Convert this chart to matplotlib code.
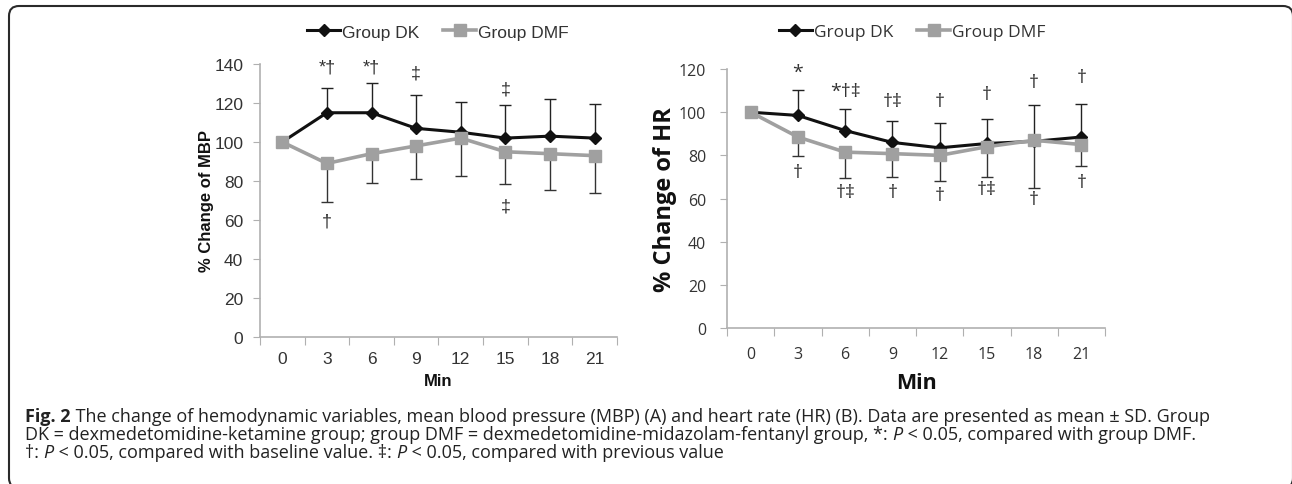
import numpy as np
import matplotlib
matplotlib.use("Agg")
import matplotlib.pyplot as plt
from matplotlib.patches import FancyBboxPatch

minutes = [0, 3, 6, 9, 12, 15, 18, 21]

mbp_dk = [100, 115, 115, 107, 105, 102, 103, 102]
mbp_dk_sd = [0, 12.5, 15, 17, 15.5, 17, 19, 17.5]
mbp_dmf = [100, 89, 94, 98, 102, 95, 94, 93]
mbp_dmf_sd = [0, 20, 15, 17, 19.5, 16.5, 18.5, 19]

hr_dk = [100, 98.5, 91.5, 86, 83.5, 85.5, 86.5, 88.5]
hr_dk_sd = [0, 12, 10, 10, 11.5, 11.5, 17, 15.5]
hr_dmf = [100, 88.5, 81.5, 80.8, 80, 84, 87, 85]
hr_dmf_sd = [0, 9, 12, 11, 12, 14, 22, 10]

# significance marks (text, baseline y) per time point
mbp_above = ["", "*†", "*†", "‡", "", "‡", "", ""]
mbp_above_y = [0, 136, 136, 133, 0, 125, 0, 0]
mbp_below = ["", "†", "", "", "", "‡", "", ""]
mbp_below_y = [0, 57, 0, 0, 0, 65, 0, 0]

hr_above = ["", "*", "*†‡", "†‡", "†", "†", "†", "†"]
hr_above_y = [0, 116.5, 107.5, 103, 103, 106, 111.5, 114]
hr_below = ["", "†", "†‡", "†", "†", "†‡", "†", "†"]
hr_below_y = [0, 70, 60.5, 60.5, 59.5, 62, 57.5, 65.5]

DK_COLOR = "#111111"
DMF_COLOR = "#a0a0a0"
AXIS_COLOR = "#b0b0b0"
TEXT_COLOR = "#333333"

fig = plt.figure(figsize=(12.92, 4.85), dpi=100)


def draw_panel(ax, dk, dk_sd, dmf, dmf_sd, ymax, ystep, above, above_y,
               below, below_y, ylabel, family, tick_fs, lab_fs, min_fs,
               mark_fs, ypad, xpad, minpad, ylabpad):
    x = np.arange(len(minutes))
    zeros = np.zeros(len(x))
    ax.errorbar(x, dk, yerr=[zeros, dk_sd], fmt="none", ecolor="#222222",
                elinewidth=1, capsize=4, capthick=1, zorder=2)
    ax.errorbar(x, dmf, yerr=[dmf_sd, zeros], fmt="none", ecolor="#333333",
                elinewidth=1, capsize=4, capthick=1, zorder=2)
    ax.plot(x, dk, color=DK_COLOR, lw=2.2, marker="D", ms=6,
            label="Group DK", zorder=3)
    ax.plot(x, dmf, color=DMF_COLOR, lw=2.6, marker="s", ms=8,
            label="Group DMF", zorder=4)

    for i in range(len(x)):
        if above[i]:
            ax.text(x[i], above_y[i], above[i], ha="center", va="baseline",
                    fontsize=mark_fs, color=TEXT_COLOR, family=family)
        if below[i]:
            ax.text(x[i], below_y[i], below[i], ha="center", va="baseline",
                    fontsize=mark_fs, color=TEXT_COLOR, family=family)

    ax.set_xlim(-0.5, len(x) - 0.5)
    ax.set_ylim(0, ymax)
    ax.set_yticks(np.arange(0, ymax + 1, ystep))
    ax.set_xticks(np.arange(-0.5, len(x)), minor=False)
    ax.set_xticklabels([])
    ax.set_xticks(x, minor=True)
    ax.set_xticklabels([str(m) for m in minutes], minor=True)
    ax.tick_params(axis="x", which="major", length=6, color=AXIS_COLOR,
                   direction="out")
    ax.tick_params(axis="x", which="minor", length=0, pad=xpad,
                   labelsize=tick_fs, labelcolor=TEXT_COLOR)
    ax.tick_params(axis="y", length=5, color=AXIS_COLOR, pad=ypad,
                   labelsize=tick_fs, labelcolor=TEXT_COLOR)
    for lab in ax.get_xticklabels(minor=True) + ax.get_yticklabels():
        lab.set_family(family)
    for s in ["top", "right"]:
        ax.spines[s].set_visible(False)
    for s in ["left", "bottom"]:
        ax.spines[s].set_color(AXIS_COLOR)
        ax.spines[s].set_linewidth(1.2)
    ax.set_ylabel(ylabel, fontsize=lab_fs, fontweight="bold", family=family,
                  color="#111111", labelpad=ylabpad)
    ax.set_xlabel("Min", fontsize=min_fs, fontweight="bold", family=family,
                  color="#111111", labelpad=minpad)
    ax.patch.set_alpha(0)


ax1 = fig.add_axes([0.2012, 0.3031, 0.2763, 0.5629])
draw_panel(ax1, mbp_dk, mbp_dk_sd, mbp_dmf, mbp_dmf_sd, 140, 20,
           mbp_above, mbp_above_y, mbp_below, mbp_below_y,
           "% Change of MBP", ["Liberation Sans", "DejaVu Sans"],
           12.5, 12, 12, 13, 7, 10, 5, 0)
ax1.legend(loc="center", bbox_to_anchor=(0.339, 0.932),
           bbox_transform=fig.transFigure, ncol=2, frameon=False,
           prop={"family": ["Liberation Sans", "DejaVu Sans"], "size": 12.5},
           handlelength=1.9, handletextpad=0.1, columnspacing=1.4,
           labelcolor=TEXT_COLOR)

ax2 = fig.add_axes([0.5627, 0.3216, 0.2926, 0.534])
draw_panel(ax2, hr_dk, hr_dk_sd, hr_dmf, hr_dmf_sd, 120, 20,
           hr_above, hr_above_y, hr_below, hr_below_y,
           "% Change of HR", ["Open Sans", "DejaVu Sans"],
           11.5, 17, 15.5, 14, 10, 13, 7, 1)
ax2.legend(loc="center", bbox_to_anchor=(0.706, 0.932),
           bbox_transform=fig.transFigure, ncol=2, frameon=False,
           prop={"family": ["Open Sans", "DejaVu Sans"], "size": 12.5},
           handlelength=1.9, handletextpad=0.1, columnspacing=1.4,
           labelcolor=TEXT_COLOR)

# frame around the figure (rounded corners, cut by the right/bottom edge)
frame = FancyBboxPatch((0.09, -0.04), 12.84, 4.82,
                       boxstyle="round,pad=0,rounding_size=0.1",
                       transform=fig.dpi_scale_trans, fill=False,
                       edgecolor="#2a2a2a", linewidth=1.5)
fig.patches.append(frame)

# caption, built from runs of text
cap_family = ["Open Sans", "DejaVu Sans"]
cap_fs = 13.0
renderer = fig.canvas.get_renderer()


def draw_runs(x_px, y_px, runs):
    x = x_px / fig.bbox.width
    y = 1 - y_px / fig.bbox.height
    for s, style in runs:
        t = fig.text(x, y, s, fontsize=cap_fs, family=cap_family,
                     color="#222222", va="baseline", ha="left", **style)
        x += t.get_window_extent(renderer).width / fig.bbox.width


plain = {}
bold = {"fontweight": "bold"}
ital = {"fontstyle": "italic"}

draw_runs(25, 422, [
    ("Fig. 2", bold),
    (" The change of hemodynamic variables, mean blood pressure (MBP) (A) and "
     "heart rate (HR) (B). Data are presented as mean ± SD. Group", plain),
])
draw_runs(25, 440, [
    ("DK = dexmedetomidine-ketamine group; group DMF = "
     "dexmedetomidine-midazolam-fentanyl group, *: ", plain),
    ("P", ital),
    (" < 0.05, compared with group DMF.", plain),
])
draw_runs(25, 458, [
    ("†: ", plain),
    ("P", ital),
    (" < 0.05, compared with baseline value. ‡: ", plain),
    ("P", ital),
    (" < 0.05, compared with previous value", plain),
])

fig.savefig("out.png", dpi=100)
